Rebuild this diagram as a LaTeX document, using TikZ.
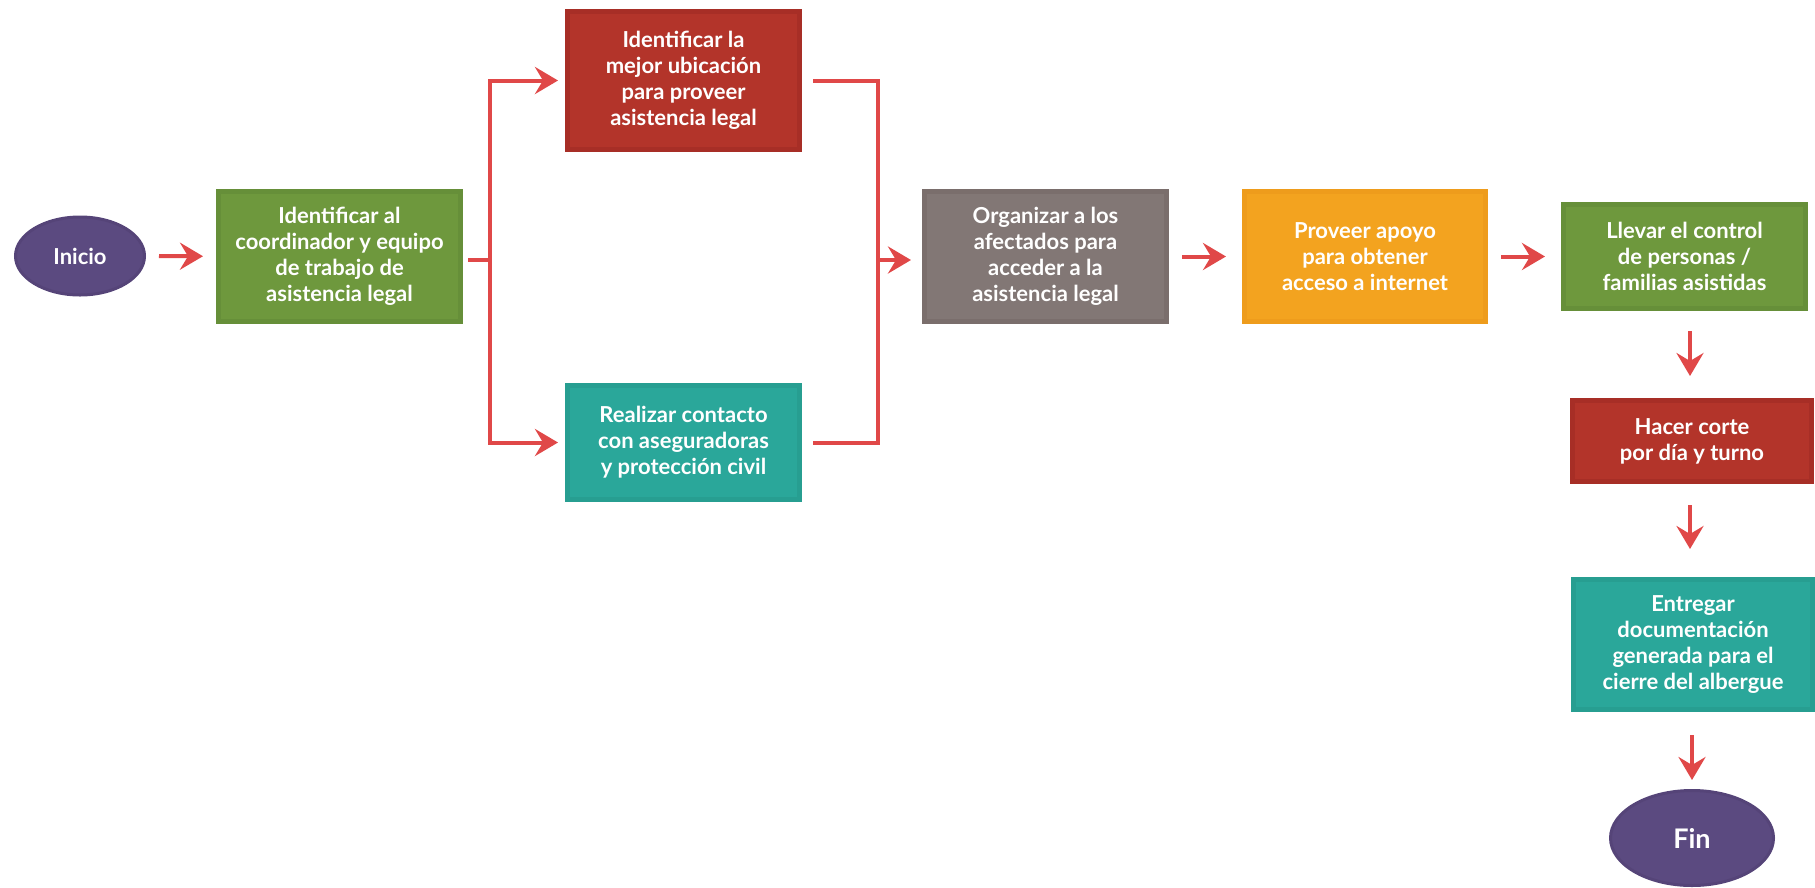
\documentclass[tikz,border=0pt]{standalone}
\usepackage{tikz}
\usetikzlibrary{positioning,arrows}
\usetikzlibrary{shapes}
\usetikzlibrary{arrows.meta}
\usepackage{xcolor}
\usepackage{fontspec}
\setmainfont{Lato}
\definecolor{morado}{HTML}{5B4A80}
\definecolor{moradob}{HTML}{554478}
\definecolor{verde}{HTML}{6E983D}
\definecolor{verdeb}{HTML}{668F39}
\definecolor{rojo}{HTML}{B3342A}
\definecolor{rojob}{HTML}{A72E26}
\definecolor{gris}{HTML}{827775}
\definecolor{grisb}{HTML}{7A6E6C}
\definecolor{naranja}{HTML}{F3A31F}
\definecolor{naranjab}{HTML}{EE9C1C}
\definecolor{turquesa}{HTML}{2AA79A}
\definecolor{turquesab}{HTML}{279E91}
\definecolor{flechac}{HTML}{E04848}

\begin{document}
\begin{tikzpicture}[x=1pt,y=-1pt]
	\useasboundingbox (0,0) rectangle (1815,887);
	\tikzstyle{every node}=[font=\fontsize{22}{26}\selectfont\bfseries, text=white, align=center, inner sep=0pt, line width=5pt]
	\tikzstyle{caja}=[rectangle, minimum width=242, minimum height=130]
	\tikzstyle{ovalo}=[ellipse, fill=morado, draw=moradob, line width=3pt]
	\tikzstyle{enlace}=[flechac, line width=4pt]
	\tikzstyle{flecha}=[enlace, -{Stealth[length=23pt,width=27pt,inset=8pt]}]

	\draw (80,256) node (inicio) [ovalo, minimum width=129, minimum height=78]{Inicio};
	\draw (339.5,256.5) node (coord) [caja, fill=verde, draw=verdeb]{Identificar al\\coordinador y equipo\\de trabajo de\\asistencia legal};
	\draw (683.5,80.5) node (ubic) [caja, fill=rojo, draw=rojob, minimum width=232, minimum height=138]{Identificar la\\mejor ubicación\\para proveer\\asistencia legal};
	\draw (683.5,442.5) node (contacto) [caja, fill=turquesa, draw=turquesab, minimum width=232, minimum height=114]{Realizar contacto\\con aseguradoras\\y protección civil};
	\draw (1045.5,256.5) node (organizar) [caja, fill=gris, draw=grisb]{Organizar a los\\afectados para\\acceder a la\\asistencia legal};
	\draw (1365,256.5) node (apoyo) [caja, fill=naranja, draw=naranjab, minimum width=241]{Proveer apoyo\\para obtener\\acceso a internet};
	\draw (1684.5,256.5) node (control) [caja, fill=verde, draw=verdeb, minimum height=104]{Llevar el control\\de personas /\\familias asistidas};
	\draw (1692,441) node (corte) [caja, fill=rojo, draw=rojob, minimum width=239, minimum height=81]{Hacer corte\\por día y turno};
	\draw (1693,644.5) node (entregar) [caja, fill=turquesa, draw=turquesab, minimum width=239]{Entregar\\documentación\\generada para el\\cierre del albergue};
	\draw (1692,838) node (fin) [ovalo, minimum width=163, minimum height=95, font=\fontsize{27}{32}\selectfont\bfseries]{Fin};

	% ramas
	\coordinate (rama) at (490,260);
	\coordinate (union) at (878,260);
	\draw [flecha, shorten <=13pt, shorten >=13pt] (inicio) -- (coord);
	\draw [enlace] ([xshift=5pt]coord.east |- rama) -- (rama);
	\draw [flecha, shorten >=7pt] (rama) |- (ubic.west);
	\draw [flecha, shorten >=7pt] (rama) |- (contacto.west);
	\draw [enlace] ([xshift=11pt]ubic.east) -| (union);
	\draw [enlace] ([xshift=11pt]contacto.east) -| (union);
	\draw [flecha, shorten >=11pt] (union) -- (union -| organizar.west);

	\draw [flecha, shorten <=13pt, shorten >=16pt] (organizar) -- (apoyo);
	\draw [flecha, shorten <=13pt, shorten >=16pt] (apoyo) -- (control);
	\draw [flecha, shorten <=20pt, shorten >=22pt] (control.south -| 1690,0) -- (corte.north -| 1690,0);
	\draw [flecha, shorten <=21pt, shorten >=28pt] (corte.south -| 1690,0) -- (entregar.north -| 1690,0);
	\draw [flecha, shorten <=23pt, shorten >=9pt] (entregar.south -| fin) -- (fin.north);
\end{tikzpicture}
\end{document}
